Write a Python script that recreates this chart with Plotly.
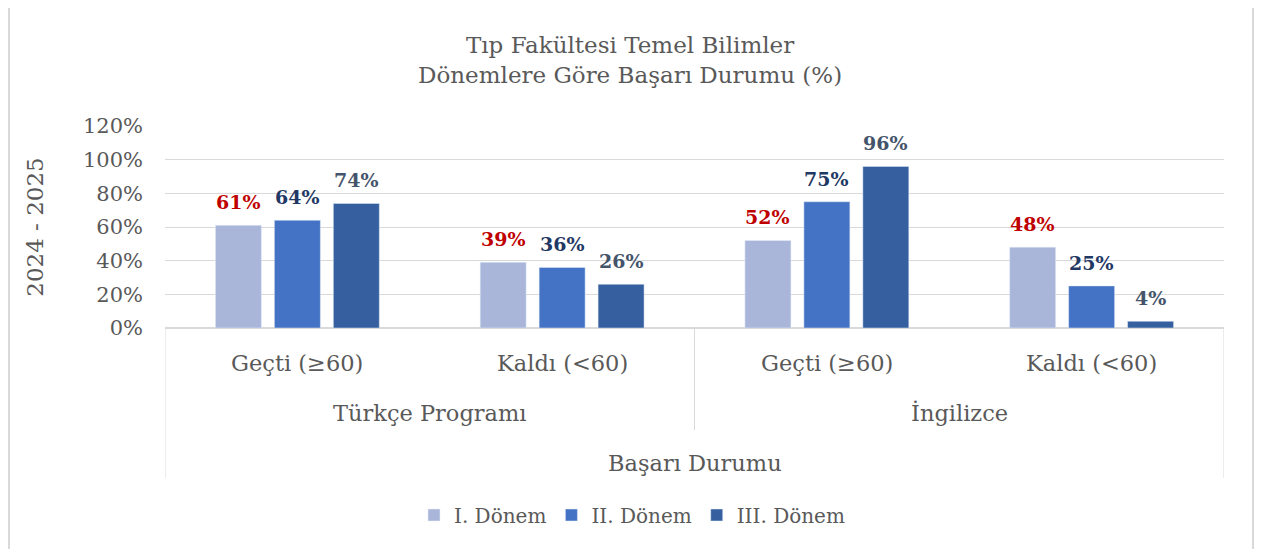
import plotly.graph_objects as go

programs = ["Türkçe Programı", "İngilizce"]
statuses = ["Geçti (≥60)", "Kaldı (<60)"]
categories = ["Türkçe – Geçti", "Türkçe – Kaldı", "İngilizce – Geçti", "İngilizce – Kaldı"]
series_names = ["I. Dönem", "II. Dönem", "III. Dönem"]
donem1 = [61, 39, 52, 48]
donem2 = [64, 36, 75, 25]
donem3 = [74, 26, 96, 4]
y_ticks = [0, 20, 40, 60, 80, 100, 120]

bar_colors = ["#A9B6DA", "#4472C4", "#365F9F"]
label_colors = ["#C00000", "#1F3864", "#44546A"]
FONT = "DejaVu Serif"
GRAY = "#595959"
LINE = "#D9D9D9"

# page has an 8px body margin; work in figure pixels = screen pixels - 8
OFF = 8
W, H = 1254, 541
L, T = 165 - OFF, 126 - OFF
R = W - (1224 - OFF)
B = H - (328 - OFF)
ph = H - T - B
pw = W - L - R

def py(pix):
    return (H - B - (pix - OFF)) / ph

def px(pix):
    return ((pix - OFF) - L) / pw

BARGAP, GROUPGAP = 0.332, 0.22
slot = pw / len(categories) * (1 - BARGAP) / 3

fig = go.Figure()
annotations = []
all_vals = [donem1, donem2, donem3]
for i, (name, vals, bc, lc) in enumerate(zip(series_names, all_vals, bar_colors, label_colors)):
    fig.add_trace(go.Bar(x=categories, y=vals, name=name, marker_color=bc))
    for c, v in zip(categories, vals):
        annotations.append(dict(text=f"<b>{v}%</b>", xref="x", yref="y", x=c, y=v,
                                xshift=(i - 1) * slot, yshift=23, xanchor="center", yanchor="middle",
                                showarrow=False, font=dict(family=FONT, size=19, color=lc)))

# title
annotations.append(dict(text="Tıp Fakültesi Temel Bilimler<br>Dönemlere Göre Başarı Durumu (%)",
                        xref="paper", yref="paper", x=px(630), y=py(60), xanchor="center", yanchor="middle",
                        showarrow=False, font=dict(family=FONT, size=23, color=GRAY)))
# status labels
for i, c in enumerate(categories):
    annotations.append(dict(text=statuses[i % 2], xref="x", yref="paper", x=c, y=py(363),
                            xanchor="center", yanchor="middle", showarrow=False,
                            font=dict(family=FONT, size=22.5, color=GRAY)))
for j, p in enumerate(programs):
    annotations.append(dict(text=p, xref="x", yref="paper", x=2 * j + 0.5, y=py(413),
                            xanchor="center", yanchor="middle", showarrow=False,
                            font=dict(family=FONT, size=22.5, color=GRAY)))
annotations.append(dict(text="Başarı Durumu", xref="paper", yref="paper", x=0.5, y=py(463),
                        xanchor="center", yanchor="middle", showarrow=False,
                        font=dict(family=FONT, size=22.5, color=GRAY)))

shapes = []
for xv, yb in [(-0.5, 478), (1.5, 430), (3.5, 478)]:
    shapes.append(dict(type="line", xref="x", yref="paper", x0=xv, x1=xv, y0=0, y1=py(yb),
                       line=dict(color=LINE, width=1)))
shapes.append(dict(type="rect", xref="paper", yref="paper", x0=px(9), x1=px(1253), y0=py(570), y1=py(5),
                   line=dict(color=LINE, width=2), fillcolor="rgba(0,0,0,0)"))

fig.update_layout(
    width=W, height=H,
    margin=dict(l=L, r=R, t=T, b=B),
    paper_bgcolor="white", plot_bgcolor="white",
    barmode="group", bargap=BARGAP, bargroupgap=GROUPGAP,
    font=dict(family=FONT, color=GRAY),
    showlegend=True,
    legend=dict(orientation="h", x=px(632), xanchor="center", y=py(515), yanchor="middle",
                font=dict(family=FONT, size=20, color=GRAY), itemwidth=30),
    annotations=annotations, shapes=shapes,
    xaxis=dict(type="category", showticklabels=False, showgrid=False, zeroline=False,
               showline=False, range=[-0.5, 3.5]),
    yaxis=dict(range=[0, 120], tickvals=y_ticks, ticktext=[f"{v}%" for v in y_ticks],
               showgrid=True, gridcolor=LINE, gridwidth=1, zeroline=True, zerolinecolor=LINE,
               zerolinewidth=1.5, tickfont=dict(family=FONT, size=21, color=GRAY),
               ticks="", ticklen=0, ticklabelstandoff=21,
               title=dict(text="2024 - 2025", font=dict(family=FONT, size=23, color=GRAY), standoff=32)),
)

fig.write_html("out.html")
